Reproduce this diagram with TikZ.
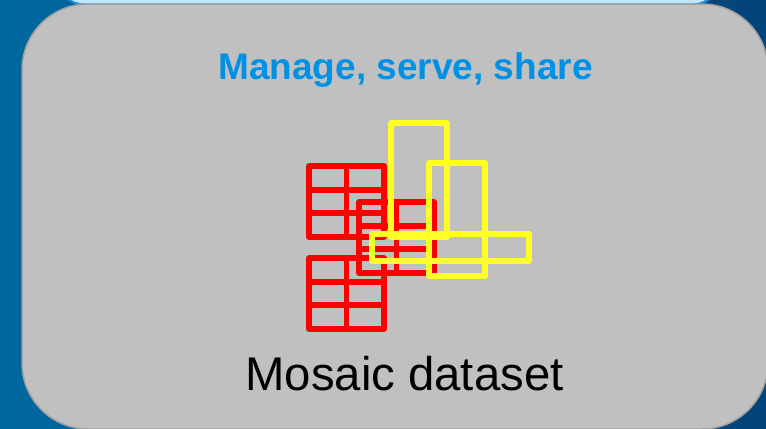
\documentclass[tikz,border=0pt]{standalone}
\usepackage{fontspec}
\setmainfont{Liberation Sans}
\definecolor{bgleft}{RGB}{0,104,160}
\definecolor{bgright}{RGB}{3,68,122}
\definecolor{topblue}{RGB}{190,232,255}
\definecolor{topedge}{RGB}{30,140,220}
\definecolor{panelgray}{RGB}{192,192,192}
\definecolor{panelrim}{RGB}{160,160,160}
\definecolor{titleblue}{RGB}{0,145,228}
\definecolor{gridred}{RGB}{255,0,0}
\definecolor{frameyellow}{RGB}{255,255,40}
\tikzset{
  gridline/.style={draw=gridred, line width=5.8bp, line join=round, line cap=round},
  frameline/.style={draw=frameyellow, line width=5.8bp, line join=round},
  panel/.style={fill=panelgray, draw=panelrim, line width=1.5bp, rounded corners=66bp},
  titletext/.style={font=\fontsize{37bp}{40bp}\selectfont\bfseries, text=titleblue, inner sep=0pt, anchor=base},
  captiontext/.style={font=\fontsize{47.3bp}{50bp}\selectfont, text=black, inner sep=0pt, anchor=base},
  grid2x3/.pic={
    \draw[gridline] (0,0) rectangle (75,71);
    \draw[gridline] (37.5,0) -- (37.5,71);
    \draw[gridline] (0,23.7) -- (75,23.7) (0,47.3) -- (75,47.3);
  }
}
\begin{document}
\begin{tikzpicture}[x=1bp,y=-1bp]
\useasboundingbox (0,0) rectangle (766,428);
% blue backdrop
\shade[left color=bgleft, right color=bgright] (0,0) rectangle (766,428);
% lower edge of the panel above
\draw[fill=topblue, draw=topedge, line width=2bp, rounded corners=30bp] (55,-60) rectangle (722,4.5);
% main grey panel
\draw[panel] (22,4) rectangle (768,429);

% raster tiles
\pic at (309,166) {grid2x3};
\pic at (309,258) {grid2x3};
\pic at (359,202) {grid2x3};

% footprints
\draw[frameline] (391,123) rectangle (447,237);
\draw[frameline] (429,163) rectangle (485,276);
\draw[frameline] (372,234) rectangle (529,261);

% labels
\node[titletext] (title) at (405.5,79) {Manage, serve, share};
\node[captiontext] (caption) at (404.5,390) {Mosaic dataset};
\end{tikzpicture}
\end{document}
